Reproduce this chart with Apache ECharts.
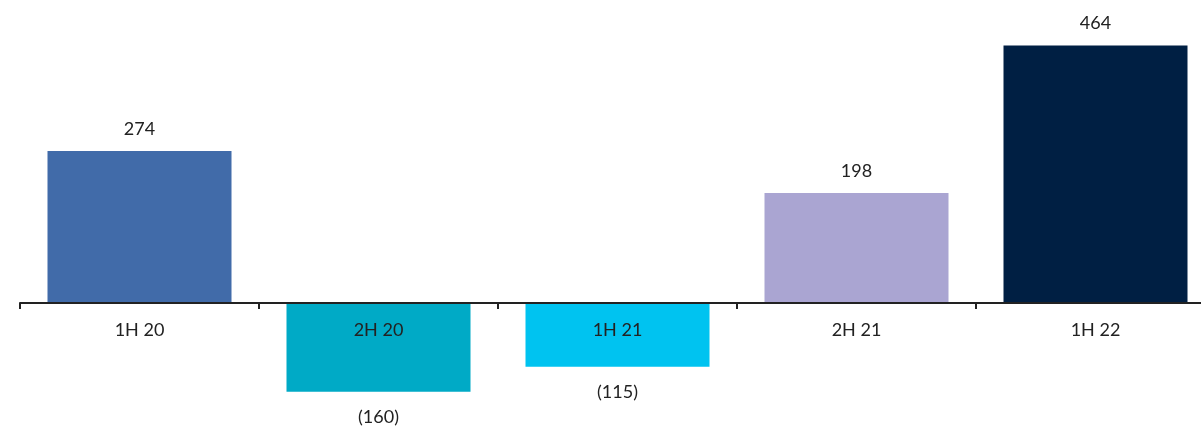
<!DOCTYPE html>
<html>
<head>
<meta charset="utf-8">
<script src="https://cdn.jsdelivr.net/npm/echarts@6/dist/echarts.min.js"></script>
<style>
  html, body { margin: 0; padding: 0; background: #fff; }
  #chart { width: 1201px; height: 428px; }
</style>
</head>
<body>
<div id="chart"></div>
<script>
// Half-year results by period
const categories = ['1H 20', '2H 20', '1H 21', '2H 21', '1H 22'];
const values = [274, -160, -115, 198, 464];
const barColors = ['#416BA9', '#00AAC6', '#00C3F0', '#AAA5D2', '#001F43'];

const fontFamily = 'Lato, "Noto Sans", sans-serif';
const textColor = '#222222';

// Negative figures are shown in parentheses
function fmt(v) {
  return v < 0 ? '(' + Math.abs(v) + ')' : String(v);
}

// Plot area: zero line sits at y = 303
const plotLeft = 20, plotWidth = 1195, plotTop = 25.5, plotHeight = 388.5;
const zeroY = 303;

const chart = echarts.init(document.getElementById('chart'));
chart.setOption({
  animation: false,
  grid: [
    // bars
    { left: plotLeft, width: plotWidth, top: plotTop, height: plotHeight, outerBoundsMode: 'none' },
    // category axis drawn along the zero line
    { left: plotLeft, width: plotWidth, top: 0, height: zeroY, outerBoundsMode: 'none' }
  ],
  xAxis: [
    { type: 'category', gridIndex: 0, data: categories, show: false },
    {
      type: 'category',
      gridIndex: 1,
      data: categories,
      position: 'bottom',
      axisLine: { onZero: false, lineStyle: { color: '#222222', width: 2 } },
      axisTick: { show: true, length: 6, lineStyle: { color: '#222222', width: 2 } },
      axisLabel: { color: textColor, fontSize: 18, fontFamily: fontFamily, margin: 18 },
      z: 10
    }
  ],
  yAxis: [
    { type: 'value', gridIndex: 0, min: -200, max: 500, show: false, splitLine: { show: false } },
    { type: 'value', gridIndex: 1, min: 0, max: 1, show: false, splitLine: { show: false } }
  ],
  series: [{
    type: 'bar',
    xAxisIndex: 0,
    yAxisIndex: 0,
    barWidth: 184,
    data: values.map((v, i) => ({
      value: v,
      itemStyle: { color: barColors[i] },
      label: { position: v < 0 ? 'bottom' : 'top', distance: v < 0 ? 16 : 13 }
    })),
    label: {
      show: true,
      color: textColor,
      fontSize: 18,
      fontFamily: fontFamily,
      formatter: p => fmt(p.value)
    }
  }]
});
</script>
</body>
</html>
